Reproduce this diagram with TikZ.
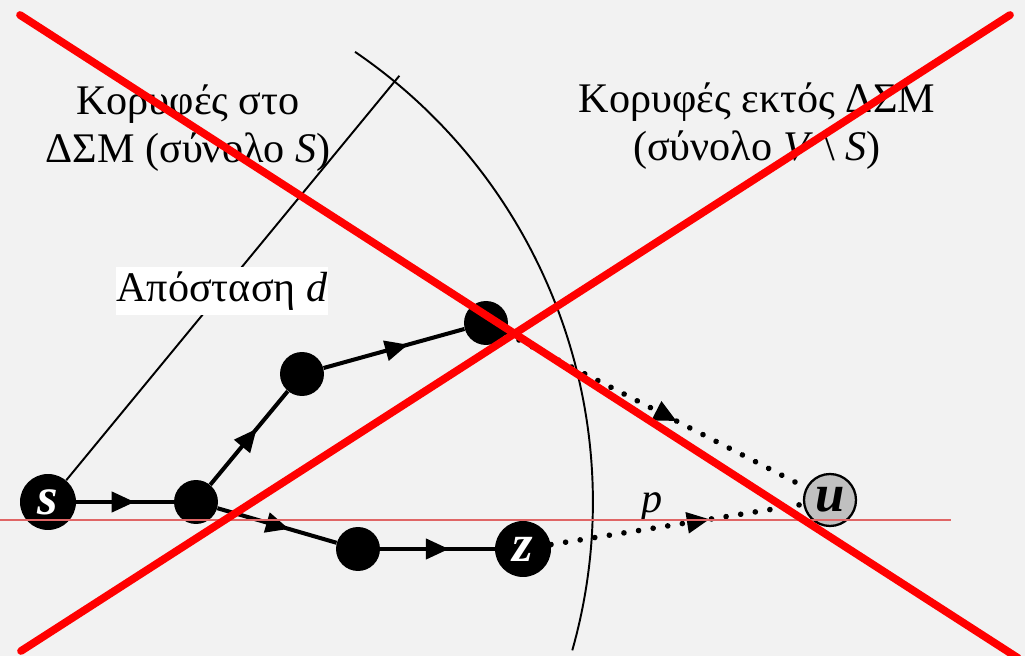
\documentclass[tikz,border=0pt]{standalone}
\usepackage{fontspec}
\setmainfont{Liberation Serif}
\usetikzlibrary{arrows.meta,decorations.markings}
\definecolor{bgcol}{HTML}{F2F2F2}
\definecolor{crosscol}{HTML}{FF0000}
\definecolor{cutcol}{HTML}{E06666}
\definecolor{ucol}{HTML}{C0C0C0}

\begin{document}
\begin{tikzpicture}[x=0.02cm, y=0.02cm,
  font=\fontsize{24}{27}\selectfont,
  vtx/.style={circle, fill=black, inner sep=0pt, minimum size=0.88cm},
  bigvtx/.style={vtx, minimum size=1.12cm, text=white, font=\fontsize{30}{30}\selectfont\bfseries\itshape},
  midarrow/.style={postaction={decorate}, decoration={markings,
    mark=at position #1 with {\arrow{Triangle[length=0.46cm,width=0.4cm]}}}},
  tree/.style={line width=2.3pt, midarrow=0.6},
  probe/.style={line width=3.2pt, line cap=round, dash pattern=on 0.01pt off 8.4pt, midarrow=#1},
]
% background, fixes the margins
\fill[bgcol] (0,0) rectangle (1025,656);
\useasboundingbox (0,0) rectangle (1025,656);

% vertices
\node[bigvtx] (s) at (48,154) {s};
\node[vtx] (a) at (196,154) {};
\node[vtx] (b) at (302,282) {};
\node[vtx] (c) at (486,333) {};
\node[vtx] (e) at (358,107) {};
\node[bigvtx] (z) at (523,107) {z};
\node[circle, draw=black, line width=1.3pt, fill=ucol, minimum size=1.04cm, inner sep=0pt,
  font=\fontsize{30}{30}\selectfont\bfseries\itshape] (u) at (830,156) {u};

% cut between S and V \ S, with the distance d
\draw[line width=1.1pt] ([shift={(s.center)}]55.7:10.9cm) arc[start angle=55.7, end angle=-15.8, radius=10.9cm];
\draw[line width=1.1pt] (s.50.5) -- ([shift={(s.center)}]50.5:11.05cm);

% tree edges
\draw[tree] (s) -- (a);
\draw[tree] (a) -- (b);
\draw[tree] (b) -- (c);
\draw[tree] (a) -- (e);
\draw[tree] (e) -- (z);

% edges leaving the tree
\draw[probe=0.57] (c) -- (u);
\draw[probe=0.63] (z) -- (u);

% labels
\node[align=center] (intree) at (188,528) {Κορυφές στο\\ΔΣΜ (σύνολο \textit{S})};
\node[align=center] (outtree) at (757,530) {Κορυφές εκτός ΔΣΜ\\(σύνολο \textit{V} \textbackslash{} \textit{S})};
\node[fill=white, minimum width=4.1cm, minimum height=0.98cm, inner sep=0pt] (dlabel) at (222,365) {Απόσταση \textit{d}};
\node[anchor=base] (plabel) at (652,143) {\textit{p}};

% crossing out
\draw[cutcol, line width=0.9pt] (0,136) -- (951,136);
\draw[crosscol, line width=4.4pt, line cap=round] (20,641) -- (1018,-2);
\draw[crosscol, line width=4.4pt, line cap=round] (1010,641) -- (21,5);
\end{tikzpicture}
\end{document}
